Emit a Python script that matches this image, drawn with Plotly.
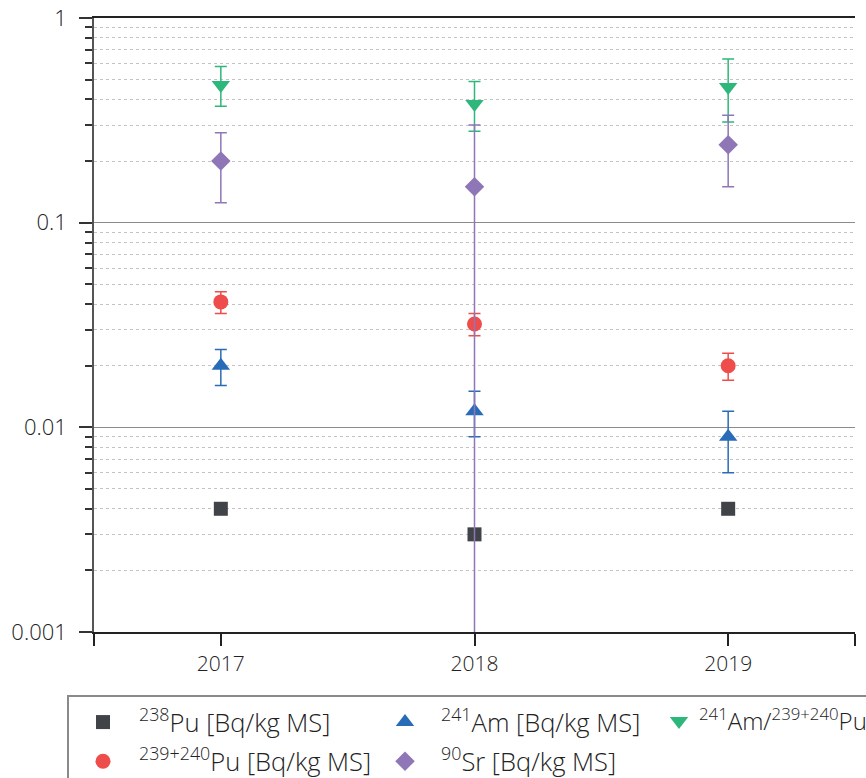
import plotly.graph_objects as go

years = ["2017", "2018", "2019"]
xpos = [0, 1, 2]

pu238 = [0.004, 0.003, 0.004]

am241 = [0.020, 0.012, 0.009]
am241_err = [0.004, 0.003, 0.003]

ratio = [0.47, 0.38, 0.46]
ratio_err_plus = [0.11, 0.11, 0.17]
ratio_err_minus = [0.10, 0.10, 0.15]

pu239 = [0.041, 0.032, 0.020]
pu239_err_plus = [0.005, 0.004, 0.003]
pu239_err_minus = [0.005, 0.004, 0.003]

sr90 = [0.20, 0.15, 0.24]
sr90_err_plus = [0.075, 0.15, 0.095]
sr90_err_minus = [0.075, 0.15, 0.09]

names = [
    "<sup>238</sup>Pu [Bq/kg MS]",
    "<sup>241</sup>Am [Bq/kg MS]",
    "<sup>241</sup>Am/<sup>239+240</sup>Pu",
    "<sup>239+240</sup>Pu [Bq/kg MS]",
    "<sup>90</sup>Sr [Bq/kg MS]",
]

C_DARK = "#404347"
C_BLUE = "#2A6BB7"
C_GREEN = "#2EB77A"
C_RED = "#EF4C4C"
C_PURPLE = "#8F76B6"

# plot area in pixels
L, R, T, B = 94, 11, 18, 146
W, H = 866, 778
PW, PH = W - L - R, H - T - B

def px_x(p):
    return (p - L) / PW

def px_y(p):
    return (H - B - p) / PH

fig = go.Figure()

def err(plus, minus, color):
    return dict(type="data", symmetric=False, array=plus, arrayminus=minus,
                color=color, thickness=1.5, width=6)

fig.add_trace(go.Scatter(x=xpos, y=pu238, mode="markers", name=names[0],
                         legend="legend", legendgroup="a",
                         marker=dict(symbol="square", size=14, color=C_DARK)))
fig.add_trace(go.Scatter(x=xpos, y=am241, mode="markers", name=names[1],
                         legend="legend2", legendgroup="c",
                         marker=dict(symbol="triangle-up", size=16, color=C_BLUE),
                         error_y=err(am241_err, am241_err, C_BLUE)))
fig.add_trace(go.Scatter(x=xpos, y=ratio, mode="markers", name=names[2],
                         legend="legend3", legendgroup="e",
                         marker=dict(symbol="triangle-down", size=16, color=C_GREEN),
                         error_y=err(ratio_err_plus, ratio_err_minus, C_GREEN)))
fig.add_trace(go.Scatter(x=xpos, y=pu239, mode="markers", name=names[3],
                         legend="legend", legendgroup="b",
                         marker=dict(symbol="circle", size=15, color=C_RED),
                         error_y=err(pu239_err_plus, pu239_err_minus, C_RED)))
fig.add_trace(go.Scatter(x=xpos, y=sr90, mode="markers", name=names[4],
                         legend="legend2", legendgroup="d",
                         marker=dict(symbol="diamond", size=15, color=C_PURPLE),
                         error_y=err(sr90_err_plus, sr90_err_minus, C_PURPLE)))

minor_vals = [m * 10 ** e for e in (-3, -2, -1) for m in range(2, 10)]

FONT = "Open Sans"

def leg(xp, iw, fs=25.5):
    return dict(orientation="v", x=px_x(xp), y=px_y(699), xanchor="left", yanchor="top",
                itemwidth=iw, borderwidth=0, bgcolor="rgba(0,0,0,0)",
                font=dict(family=FONT, size=fs, color="#222222"),
                itemsizing="trace", tracegroupgap=3)

fig.update_layout(
    width=W, height=H,
    margin=dict(l=L, r=R, t=T, b=B, autoexpand=False),
    paper_bgcolor="white", plot_bgcolor="white",
    font=dict(family=FONT, size=21, color="#222222", weight=300),
    showlegend=True,
    legend=leg(67, 62),
    legend2=leg(369, 62),
    legend3=leg(659, 30, 24),
    shapes=[dict(type="rect", xref="paper", yref="paper",
                 x0=px_x(68), x1=px_x(870), y0=px_y(696), y1=px_y(800),
                 line=dict(color="#8a8a8a", width=2), fillcolor="rgba(0,0,0,0)", layer="above")],
    xaxis=dict(
        range=[-0.5, 2.5], tickmode="array",
        tickvals=[-0.5, 0, 1, 2, 2.5], ticktext=["", years[0], years[1], years[2], ""],
        showgrid=False, zeroline=False,
        showline=True, linecolor="#222222", linewidth=1.5, mirror=True,
        ticks="outside", ticklen=12, tickcolor="#222222", tickwidth=1.5,
        tickfont=dict(size=21),
    ),
    yaxis=dict(
        type="log", range=[-3, 0], tickmode="array",
        tickvals=[0.001, 0.01, 0.1, 1], ticktext=["0.001", "0.01", "0.1", "1"],
        showgrid=True, gridcolor="#8c8c8c", gridwidth=1, zeroline=False,
        showline=True, linecolor="#555555", linewidth=1.5,
        ticks="outside", ticklen=13, tickcolor="#333333", tickwidth=1.5,
        tickfont=dict(size=22), ticklabelstandoff=8,
        minor=dict(tickvals=minor_vals, ticks="outside", ticklen=7,
                   tickcolor="#333333", tickwidth=1.5,
                   showgrid=True, gridcolor="#c4c4c4", griddash="dot", gridwidth=1),
    ),
)

fig.write_html("out.html")
